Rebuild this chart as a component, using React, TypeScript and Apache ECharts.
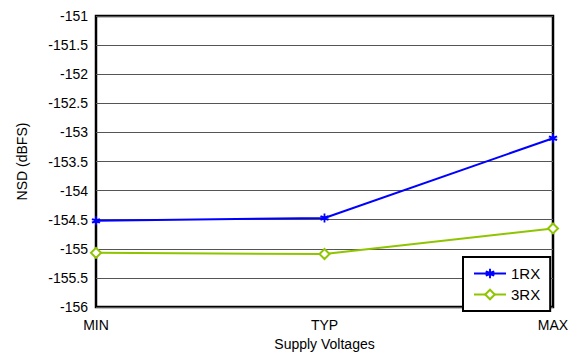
import React, { useEffect, useRef } from "react";
import * as echarts from "echarts";

const categories = ["MIN", "TYP", "MAX"];
const rx1 = [-154.52, -154.47, -153.1];
const rx3 = [-155.07, -155.09, -154.65];
const yTicks = { min: -156, max: -151, interval: 0.5 };

const starPath =
  "path://M4,0 L6,0 L6,3 L9,2 L10,4 L7,5 L10,6 L9,8 L6,7 L6,10 L4,10 L4,7 L1,8 L0,6 L3,5 L0,4 L1,2 L4,3 Z";

export default function App() {
  const ref = useRef<HTMLDivElement>(null);
  useEffect(() => {
    const chart = echarts.init(ref.current!, undefined, { renderer: "svg" });
    const font = "'Liberation Sans', Arial, sans-serif";
    chart.setOption({
      animation: false,
      textStyle: { fontFamily: font },
      grid: {
        left: 96,
        right: 17,
        top: 16,
        bottom: 45,
        outerBoundsMode: "none",
        containLabel: false,
        show: true,
        borderColor: "#000",
        borderWidth: 2.5,
      },
      xAxis: {
        type: "category",
        data: categories,
        boundaryGap: false,
        axisLine: { show: false },
        axisTick: { show: false },
        axisLabel: { color: "#000", fontSize: 14, margin: 11, fontFamily: font },
        name: "Supply Voltages",
        nameLocation: "middle",
        nameGap: 28,
        nameTextStyle: { color: "#000", fontSize: 14, fontFamily: font },
      },
      yAxis: {
        type: "value",
        min: yTicks.min,
        max: yTicks.max,
        interval: yTicks.interval,
        axisLine: { show: false },
        axisTick: { show: false },
        splitLine: { lineStyle: { color: "#555", width: 1 } },
        axisLabel: { color: "#000", fontSize: 14, margin: 8, fontFamily: font },
        name: "NSD (dBFS)",
        nameLocation: "middle",
        nameGap: 67,
        nameTextStyle: { color: "#000", fontSize: 14, fontFamily: font },
      },
      legend: {
        orient: "vertical",
        left: 463,
        top: 257,
        width: 90,
        itemWidth: 32,
        itemHeight: 12,
        itemGap: 6,
        padding: [9, 10, 9, 10],
        borderColor: "#000",
        borderWidth: 2,
        backgroundColor: "#fff",
        textStyle: { color: "#000", fontSize: 15, fontFamily: font },
        data: ["1RX", "3RX"],
      },
      series: [
        {
          name: "1RX",
          type: "line",
          data: rx1,
          symbol: starPath,
          symbolSize: 9,
          lineStyle: { color: "#0000ff", width: 2 },
          itemStyle: { color: "#0000ff" },
        },
        {
          name: "3RX",
          type: "line",
          data: rx3,
          symbol: "diamond",
          symbolSize: 10,
          lineStyle: { color: "#8fc400", width: 2 },
          itemStyle: { color: "#fff", borderColor: "#8fc400", borderWidth: 2 },
        },
      ],
    });
    return () => chart.dispose();
  }, []);
  return <div ref={ref} style={{ width: 570, height: 352, position: "absolute", left: 0, top: 0 }} />;
}
